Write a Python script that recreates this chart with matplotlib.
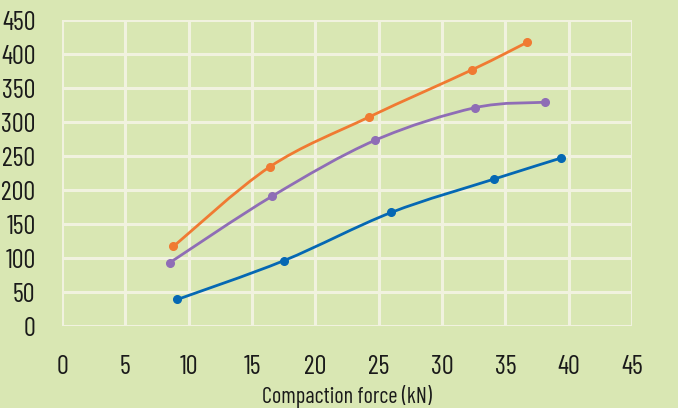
import numpy as np
import matplotlib.pyplot as plt
from matplotlib.path import Path
from matplotlib.patches import PathPatch

BG = '#d9e7b3'
GRID = '#f1f2df'

# series: compaction force (kN) vs value
orange_x = [8.8, 16.4, 24.2, 32.4, 36.7]
orange_y = [117, 234, 307, 377, 417]
purple_x = [8.5, 16.6, 24.7, 32.6, 38.1]
purple_y = [93, 191, 273, 321, 329]
blue_x = [9.1, 17.5, 26.0, 34.1, 39.4]
blue_y = [39, 96, 167, 216, 247]

x_ticks = list(range(0, 50, 5))
y_ticks = list(range(0, 500, 50))

plt.rcParams['font.family'] = ['Barlow Condensed', 'DejaVu Sans']
plt.rcParams['font.stretch'] = 'condensed'


def smooth_path(xs, ys, tension=1/6):
    # Excel-like smoothed line: cubic bezier segments through the data points
    pts = np.column_stack([xs, ys]).astype(float)
    verts = [pts[0]]
    codes = [Path.MOVETO]
    n = len(pts)
    for i in range(n - 1):
        p0 = pts[i - 1] if i > 0 else pts[i]
        p1 = pts[i]
        p2 = pts[i + 1]
        p3 = pts[i + 2] if i + 2 < n else pts[i + 1]
        c1 = p1 + (p2 - p0) * tension
        c2 = p2 - (p3 - p1) * tension
        verts += [c1, c2, p2]
        codes += [Path.CURVE4] * 3
    return Path(verts, codes)


fig = plt.figure(figsize=(6.78, 4.08), dpi=100, facecolor=BG)
ax = fig.add_axes([62/678, 82/408, 570/678, 306/408])
ax.set_facecolor(BG)

for xs, ys, c in [(orange_x, orange_y, '#f07a32'),
                  (purple_x, purple_y, '#8f6db6'),
                  (blue_x, blue_y, '#0568b3')]:
    ax.add_patch(PathPatch(smooth_path(xs, ys), facecolor='none',
                           edgecolor=c, lw=2.0, zorder=3))
    ax.plot(xs, ys, 'o', color=c, ms=5.5, zorder=4)

ax.set_xlim(0, 45)
ax.set_ylim(0, 450)
ax.set_xticks(x_ticks)
ax.set_yticks(y_ticks)
ax.grid(True, color=GRID, lw=2.2, zorder=1)
ax.set_axisbelow(True)
for s in ax.spines.values():
    s.set_visible(False)
ax.tick_params(length=0, labelsize=19, colors='#1a1a1a')
ax.tick_params(axis='x', pad=21)
ax.tick_params(axis='y', pad=19)
ax.set_xlabel('Compaction force (kN)', fontsize=16, color='#1a1a1a', labelpad=4)

fig.savefig('out.png', dpi=100, facecolor=BG)
